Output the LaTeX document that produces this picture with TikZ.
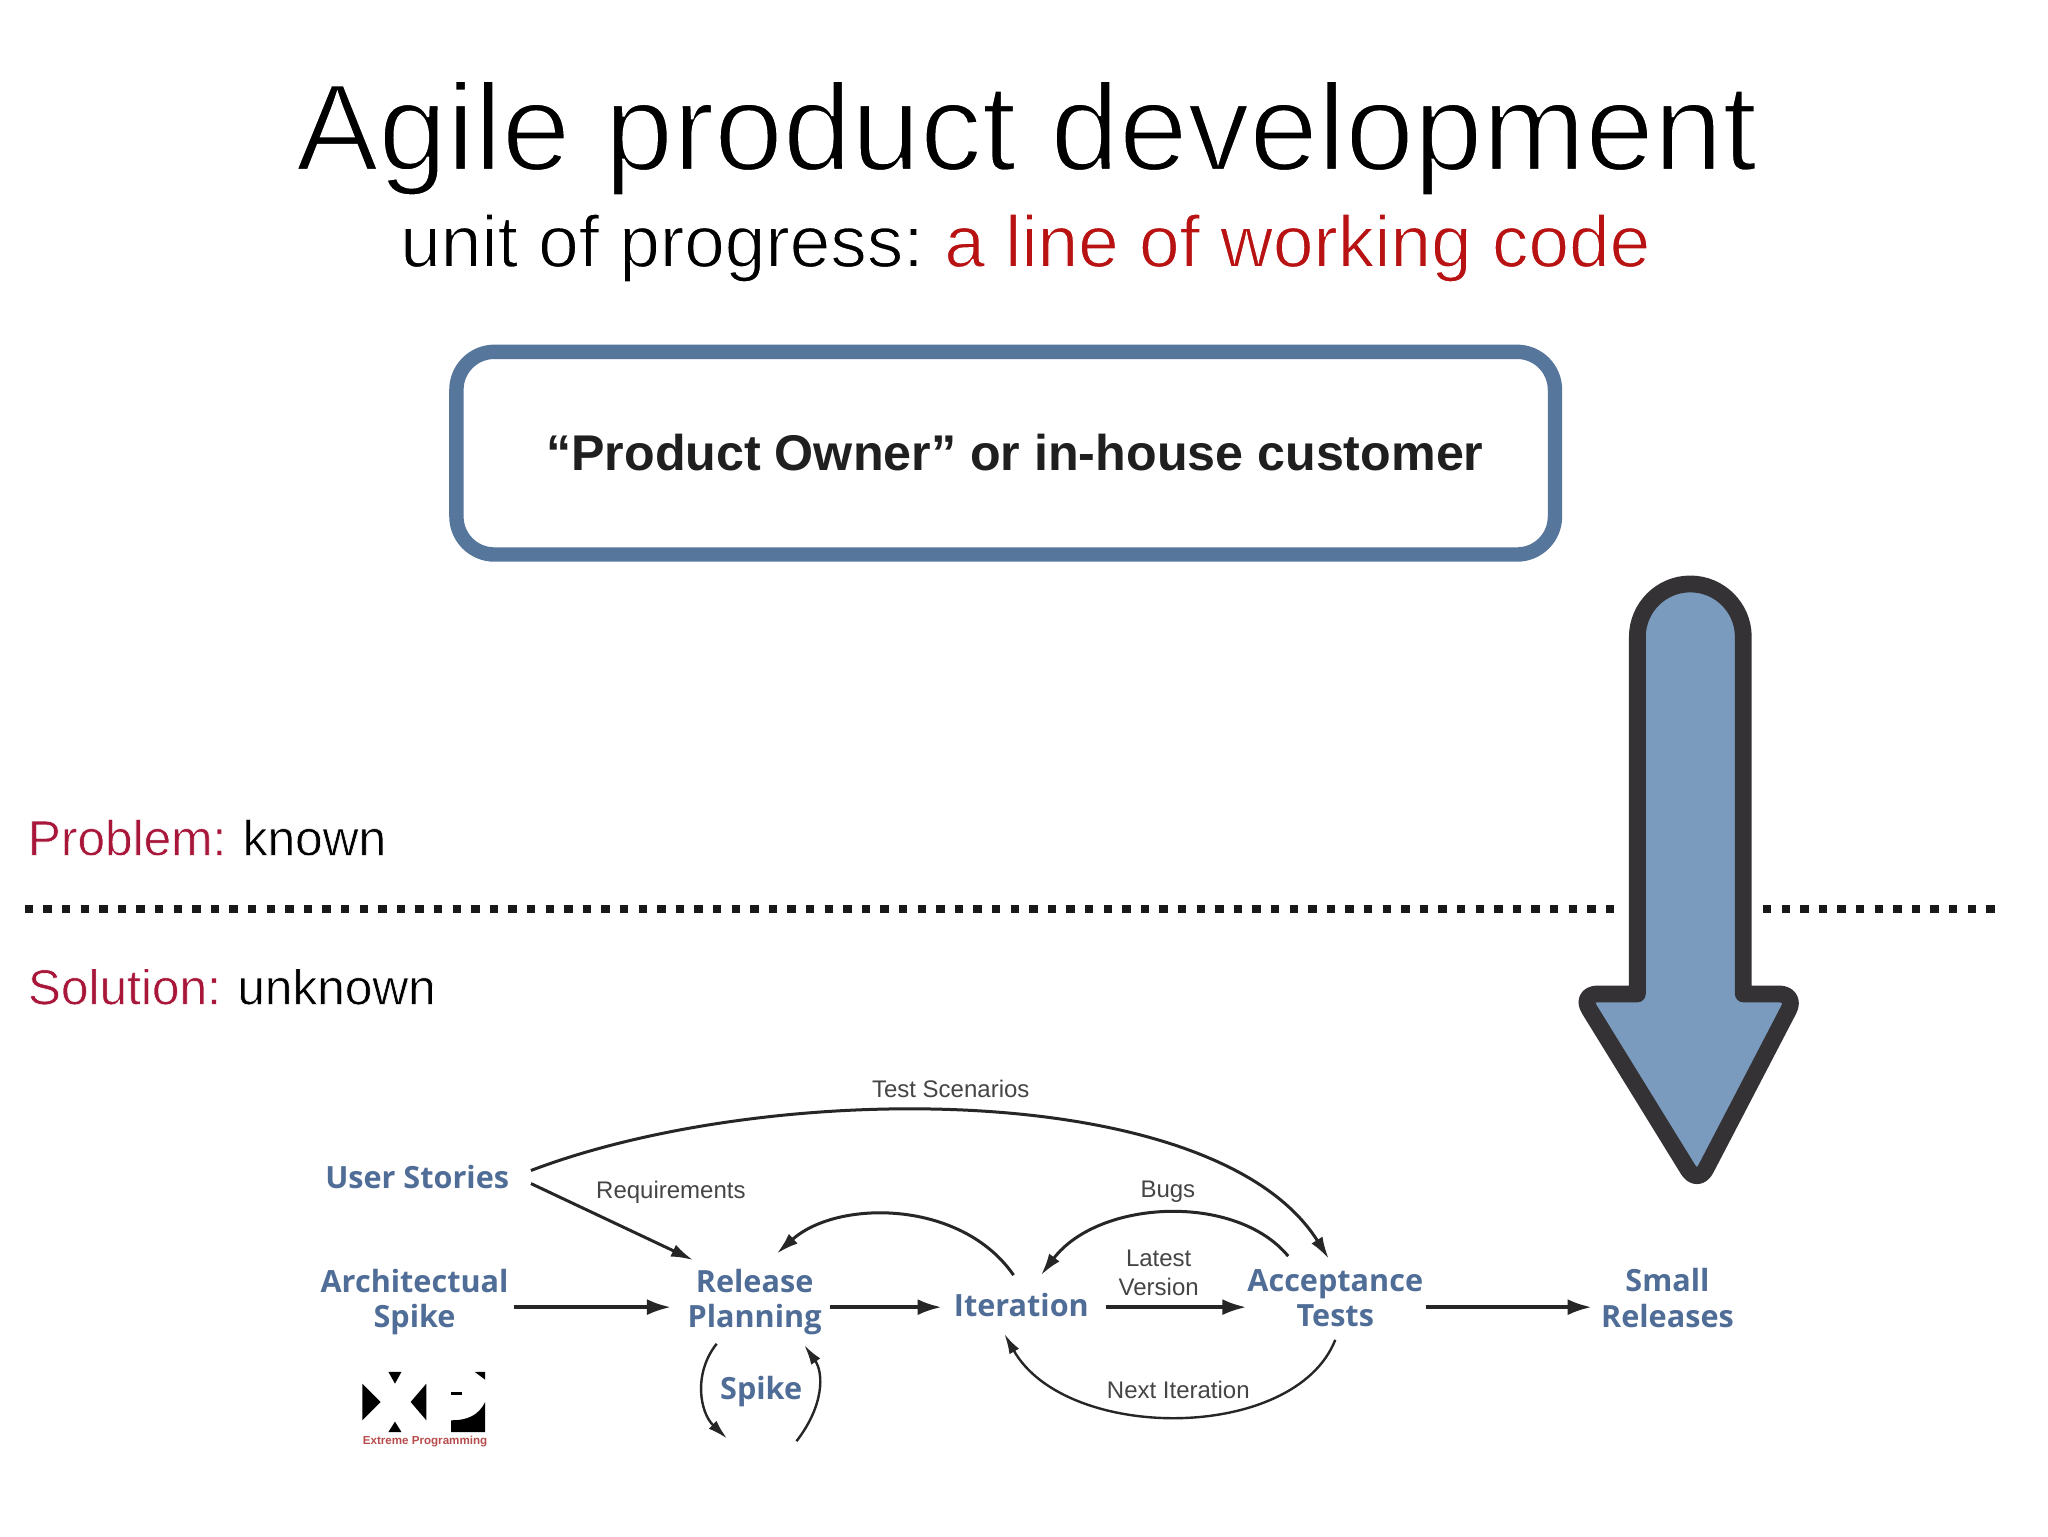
\documentclass[tikz,border=0pt]{standalone}
\usepackage{fontspec}
\setmainfont{Liberation Sans}
\newfontfamily\lblfont{Open Sans}
\usetikzlibrary{arrows.meta}
\definecolor{boxblue}{HTML}{56769C}
\definecolor{arrowfill}{HTML}{7A9BBD}
\definecolor{arrowline}{HTML}{353235}
\definecolor{lblblue}{HTML}{4F6D96}
\definecolor{slabel}{HTML}{454545}
\definecolor{subred}{HTML}{B81212}
\definecolor{probred}{HTML}{A8173A}
\newcommand{\lightset}[2]{\special{pdf:code 2 Tr #1 w 1 1 1 RG}#2\special{pdf:code 0 Tr}}
\tikzset{
  x=0.6539pt,y=-0.6539pt,
  titletext/.style={font=\fontsize{61.7}{70}\selectfont,text=black,inner sep=0pt},
  subtext/.style={font=\fontsize{36.5}{42}\selectfont,text=black,inner sep=0pt},
  sidetext/.style={font=\fontsize{24.8}{30}\selectfont,inner sep=0pt,anchor=base west},
  stage/.style={font=\lblfont\bfseries\fontsize{15.3}{17.7}\selectfont,text=lblblue,align=center,inner sep=0pt},
  small/.style={font=\fontsize{12}{14.4}\selectfont,text=slabel,align=center,inner sep=0pt},
  flow/.style={line width=1.5pt,draw=black!85,-{Latex[length=11pt,width=6.5pt]}},
  straightflow/.style={line width=1.7pt,draw=black!85,-{Latex[length=12pt,width=8pt]}},
  thinflow/.style={line width=1.2pt,draw=black!85,-{Latex[length=10pt,width=5.5pt]}},
  logo/.style={fill=black,draw=none},
}
\begin{document}
\begin{tikzpicture}
\useasboundingbox (0,0) rectangle (1566,1174.5);
\fill[white] (0,0) rectangle (1566,1174.5);
\node[titletext,anchor=base] (title) at (785,130) {\lightset{1.25}{Agile product development}};
\node[subtext,anchor=base] (sub) at (784,204) {\lightset{0.6}{unit of progress:}\hspace{-3.2pt} \textcolor{subred}{\lightset{0.6}{a line of working code}}};
\node[draw=boxblue,line width=7.2pt,rounded corners=19pt,minimum width=840*0.6539pt,minimum height=155*0.6539pt,inner sep=0pt] (owner) at (769,346.5) {};
\node[font=\bfseries\fontsize{25.1}{30}\selectfont,text=black!88,inner sep=0pt] (ownertext) at (776,346) {“Product Owner” or in-house customer};
\node[sidetext] (prob) at (21,654) {\textcolor{probred}{\lightset{0.3}{Problem:}}\hspace{-1pt} \lightset{0.3}{known}};
\node[sidetext] (sol) at (21,768) {\textcolor{probred}{\lightset{0.3}{Solution:}}\hspace{-1pt} \lightset{0.3}{unknown}};
\coordinate (d1) at (19,695); \coordinate (d2) at (1240,695);
\coordinate (d3) at (1348,695); \coordinate (d4) at (1527,695);
\draw[line width=4.2pt,black!90,dash pattern=on 4.2pt off 5.1pt] (d1) -- (d2);
\draw[line width=4.2pt,black!90,dash pattern=on 4.2pt off 5.1pt] (d3) -- (d4);
\draw[fill=arrowfill,draw=arrowline,line width=8.4pt,line join=round]
  (1252,760) -- (1252,487) arc[start angle=180,end angle=360,radius=40.5] -- (1333,760)
  [rounded corners=9pt] -- (1374,760) -- (1298,906) -- (1208,760) [sharp corners] -- cycle;
\node[stage] (us) at (319,900) {User Stories};
\node[stage] (as) at (317,995.5) {Architectual\\Spike};
\node[stage] (rp) at (577,995.5) {Release\\Planning};
\node[stage] (it) at (781,998) {Iteration};
\node[stage] (at) at (1021,992.5) {Acceptance\\Tests};
\node[stage] (sr) at (1275,992.5) {Small\\Releases};
\node[stage] (sp) at (582,1064) {Spike};
\node[small] (ts) at (727,833) {Test Scenarios};
\node[small] (rq) at (513,912) {Requirements};
\node[small] (bg) at (893,911) {Bugs};
\node[small] (lv) at (886,973) {Latest\\Version};
\node[small] (ni) at (901,1063) {Next Iteration};
\draw[flow] ([shift={(87,-5)}]us.center) .. controls (590,825) and (930,825) .. ([shift={(-5,-30)}]at.center);
\draw[flow] ([shift={(87,5)}]us.center) -- ([shift={(-47,-32)}]rp.center);
\draw[flow] ([shift={(-6,-23)}]it.center) .. controls (735,917) and (640,917) .. ([shift={(17,-37)}]rp.center);
\draw[flow] ([shift={(-36,-32)}]at.center) .. controls (945,912) and (840,917) .. ([shift={(15,-23)}]it.center);
\draw[straightflow] ([shift={(76,4)}]as.center) -- ([shift={(-64,4)}]rp.center);
\draw[straightflow] ([shift={(58,4)}]rp.center) -- ([shift={(-61,1.5)}]it.center);
\draw[straightflow] ([shift={(65,1.5)}]it.center) -- ([shift={(-68,7)}]at.center);
\draw[straightflow] ([shift={(69,7)}]at.center) -- ([shift={(-58,7)}]sr.center);
\draw[thinflow] ([shift={(0,32)}]at.center) .. controls (990,1103) and (815,1103) .. ([shift={(-13,22)}]it.center);
\draw[thinflow] ([shift={(-29,32)}]rp.center) .. controls (530,1050) and (535,1080) .. (556,1100);
\draw[thinflow] (609,1102) .. controls (630,1075) and (630,1050) .. ([shift={(38,33)}]rp.center);
% XP logo
\fill[logo] (277,1058) -- (291,1072) -- (277,1086) -- cycle;
\fill[logo] (326,1058) -- (314,1072) -- (326,1086) -- cycle;
\fill[logo] (297,1049) -- (307,1049) -- (302,1058) -- cycle;
\fill[logo] (297,1095) -- (307,1095) -- (302,1087) -- cycle;
\fill[logo] (345,1095) -- (345,1086) .. controls (358,1086) and (366,1082) .. (371,1072) -- (371,1095) -- cycle;
\fill[logo] (345,1064.5) rectangle (353,1067);
\fill[logo] (363,1049) -- (371,1049) -- (371,1055) -- cycle;
\node[font=\bfseries\fontsize{5.8}{6}\selectfont,text=red!60!black!70,inner sep=0pt] (xp) at (325,1102) {Extreme Programming};
\end{tikzpicture}
\end{document}
